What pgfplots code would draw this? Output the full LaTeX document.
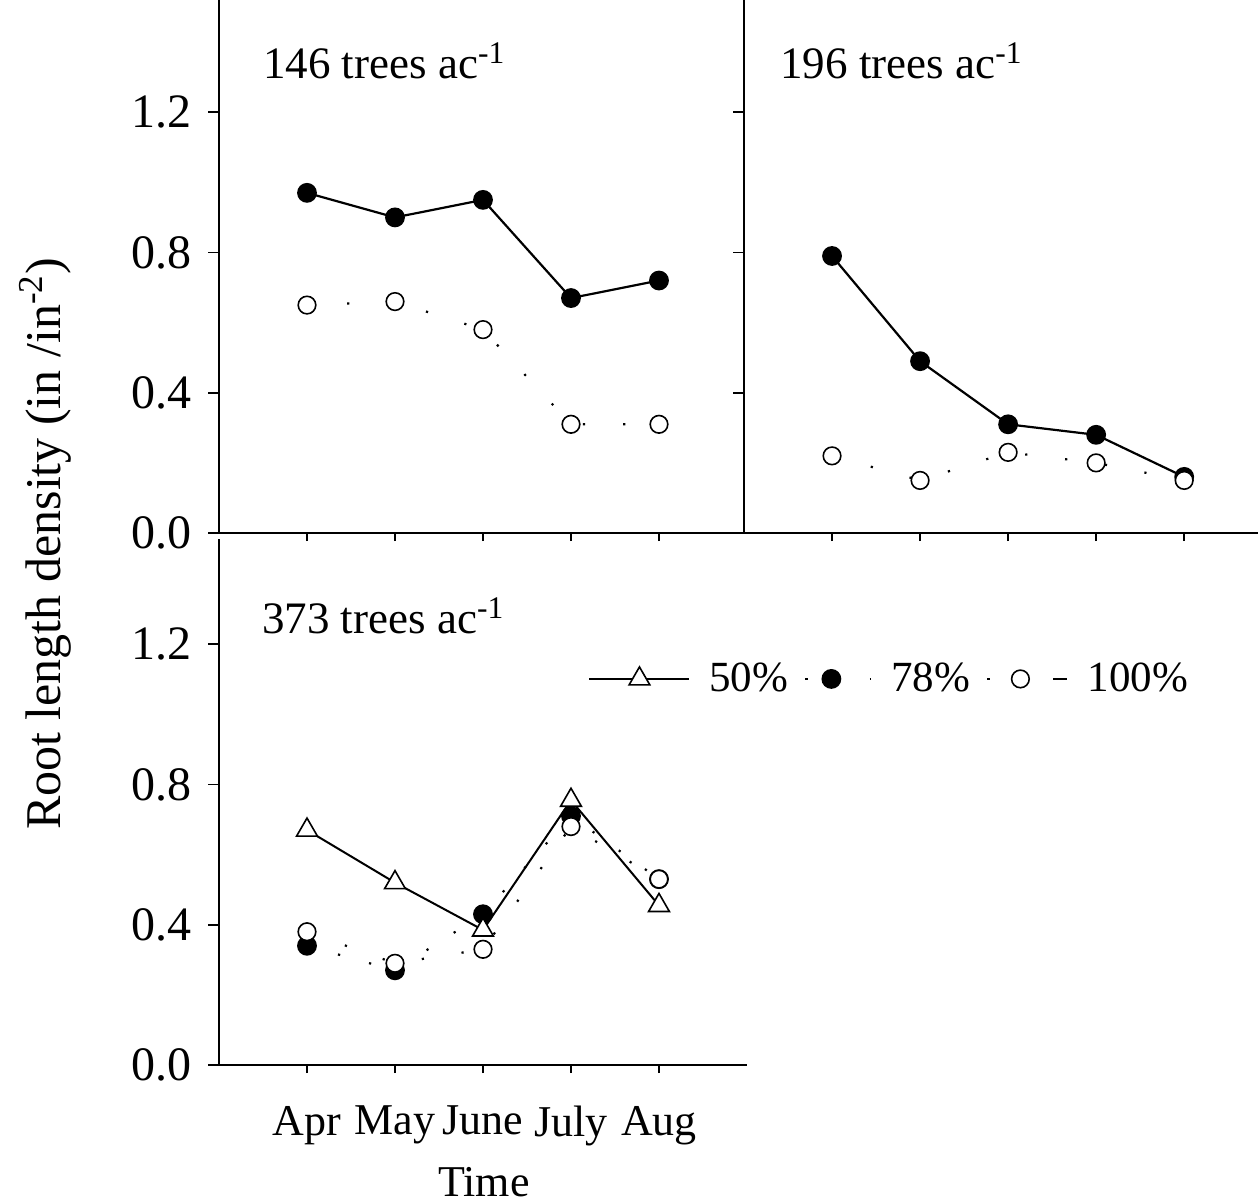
\documentclass[border=0pt]{standalone}
\usepackage{fontspec}
\setmainfont{Liberation Serif}
\usepackage{pgfplots}
\pgfplotsset{compat=1.18}

% 1 px of the reference = 0.5pt
\tikzset{ptitle/.style={anchor=base west, inner sep=0pt, font=\fontsize{22.5}{27}\selectfont}}
\pgfplotsset{
  panel/.style={
    scale only axis,
    axis lines*=left,
    axis line style={line width=0.9pt,-},
    tick align=outside,
    xtick pos=left, ytick pos=left,
    xmin=0, ymin=0,
    xtick={1,2,3,4,5},
    ytick={0,0.4,0.8,1.2},
    major tick length=5.5pt,
    xtick style={/pgfplots/major tick length=4pt},
    tick style={line width=0.9pt, black},
    clip=false,
    tick label style={font=\fontsize{22}{26}\selectfont},
    yticklabel style={font=\fontsize{24}{28}\selectfont, xshift=-4.5pt},
  },
  s50/.style={black, line width=1pt, mark=triangle*, mark size=6pt,
    mark options={fill=white, solid, line width=0.8pt},
    legend image code/.code={\draw[mark repeat=2,mark phase=2] plot coordinates {(0pt,0pt)(25pt,0pt)(50pt,0pt)};}},
  s78/.style={black, line width=1.1pt, dash pattern=on 1.1pt off 15pt, mark=*, mark size=4.4pt,
    mark options={solid},
    legend image code/.code={\draw[mark repeat=2,mark phase=2] plot coordinates {(0pt,0pt)(13pt,0pt)(33pt,0pt)};}},
  s100/.style={black, line width=1.1pt, dash pattern=on 1.1pt off 19pt, mark=*, mark size=4.4pt,
    mark options={solid, fill=white, line width=0.8pt},
    legend image code/.code={\draw[solid] (33pt,0pt)--(40pt,0pt);
      \draw[mark repeat=2,mark phase=2] plot coordinates {(0pt,0pt)(16.5pt,0pt)(33pt,0pt)};}},
}

\begin{document}
\begin{tikzpicture}
\useasboundingbox (0,0) rectangle (629pt,-602pt);

% 146 trees
\begin{axis}[panel, anchor=south west, at={(109.5pt,-266.5pt)},
  width=264pt, height=266.5pt, xmax=6, ymax=1.52,
  xticklabels={}, yticklabels={0.0,0.4,0.8,1.2}]
  \addplot[s78, solid] coordinates {(1,0.97)(2,0.90)(3,0.95)(4,0.67)(5,0.72)};
  \addplot[s100] coordinates {(1,0.65)(2,0.66)(3,0.58)(4,0.31)(5,0.31)};
  \node[ptitle] at (rel axis cs:0.083,0.852) {146 trees ac\textsuperscript{-1}};
\end{axis}

% 196 trees
\begin{axis}[panel, anchor=south west, at={(372pt,-266.5pt)},
  width=257.5pt, height=266.5pt, xmax=5.85, ymax=1.52,
  xticklabels={}, yticklabels={}]
  \addplot[s78, solid] coordinates {(1,0.79)(2,0.49)(3,0.31)(4,0.28)(5,0.16)};
  \addplot[s100] coordinates {(1,0.22)(2,0.15)(3,0.23)(4,0.20)(5,0.15)};
  \node[ptitle] at (rel axis cs:0.07,0.852) {196 trees ac\textsuperscript{-1}};
\end{axis}

% 373 trees
\begin{axis}[panel, anchor=south west, at={(109.5pt,-532.5pt)},
  width=264pt, height=263pt, xmax=6, ymax=1.5,
  xticklabels={Apr,May,June,July,Aug}, yticklabels={0.0,0.4,0.8,1.2},
  xticklabel style={yshift=-11.5pt},
  legend columns=3,
  legend style={draw=none, fill=none, inner sep=0pt, at={(0.699,0.734)}, anchor=west,
    font=\fontsize{21.5}{26}\selectfont,
    /tikz/every odd column/.append style={column sep=7.5pt},
    /tikz/every even column/.append style={column sep=6pt}},
  legend cell align=left]
  \addlegendimage{s50}
  \addlegendentry{50\%}
  \addlegendimage{s78}
  \addlegendentry{78\%}
  \addlegendimage{s100}
  \addlegendentry{100\%}
  \addplot[s78, forget plot] coordinates {(1,0.34)(2,0.27)(3,0.43)(4,0.71)(5,0.53)};
  \addplot[s100, forget plot] coordinates {(1,0.38)(2,0.29)(3,0.33)(4,0.68)(5,0.53)};
  \addplot[s50, forget plot] coordinates {(1,0.67)(2,0.52)(3,0.385)(4,0.755)(5,0.455)};
  \node[ptitle] at (rel axis cs:0.081,0.82) {373 trees ac\textsuperscript{-1}};
\end{axis}

\node[rotate=90, font=\fontsize{25}{30}\selectfont] at (22.5pt,-272pt) {Root length density (in /in\textsuperscript{-2})};
\node[font=\fontsize{22}{26}\selectfont, inner sep=0pt, anchor=base] at (242pt,-598pt) {Time};
\end{tikzpicture}
\end{document}
